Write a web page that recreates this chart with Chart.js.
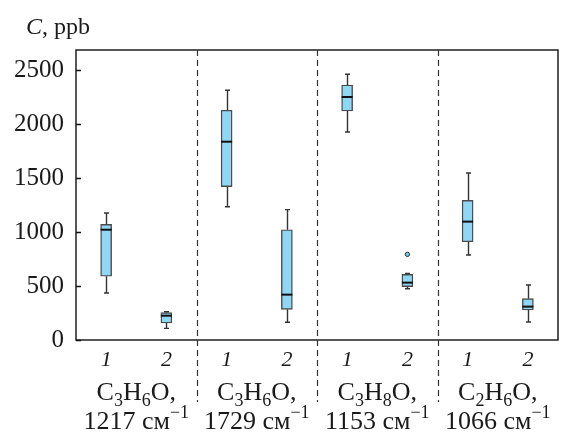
<!DOCTYPE html>
<html>
<head>
<meta charset="utf-8">
<script src="https://cdn.jsdelivr.net/npm/chart.js@4.4.1/dist/chart.umd.min.js"></script>
<style>
  html, body { margin: 0; padding: 0; background: #ffffff; }
  #wrap { width: 563px; height: 432px; position: relative; }
</style>
</head>
<body>
<div id="wrap"><canvas id="c" width="563" height="432"></canvas></div>
<script>
// ---- data ----
const categories = ['1', '2', '1', '2', '1', '2', '1', '2'];
const groupFormula = [
  [['C', 'n'], ['3', 'sub'], ['H', 'n'], ['6', 'sub'], ['O,', 'n']],
  [['C', 'n'], ['3', 'sub'], ['H', 'n'], ['6', 'sub'], ['O,', 'n']],
  [['C', 'n'], ['3', 'sub'], ['H', 'n'], ['8', 'sub'], ['O,', 'n']],
  [['C', 'n'], ['2', 'sub'], ['H', 'n'], ['6', 'sub'], ['O,', 'n']]
];
const groupWavenumber = ['1217', '1729', '1153', '1066'];
const waveUnit = 'см';
const whiskerLow  = [435, 108, 1234, 164, 1926, 475, 787, 167];
const q1          = [590, 157, 1420, 284, 2120, 494, 910, 278];
const median      = [1021, 225, 1836, 420, 2250, 531, 1096, 309];
const q3          = [1071, 253, 2127, 1021, 2361, 608, 1293, 383];
const whiskerHigh = [1176, 262, 2312, 1207, 2460, 617, 1546, 509];
const outliers    = [null, null, null, null, null, 793, null, null];
const yTicks = [0, 500, 1000, 1500, 2000, 2500];
const yMax = 2685;
const yTitleItalic = 'C';
const yTitleRest = ', ppb';

// ---- styles ----
const FONT = "'Liberation Serif', 'Times New Roman', serif";
const TEXT = '#1a1a1a';
const BOX_FILL = '#8fd8f5';
const BOX_STROKE = '#4a4a4a';

const boxPlugin = {
  id: 'boxExtras',
  beforeDatasetsDraw(chart) {
    const ctx = chart.ctx, x = chart.scales.x, y = chart.scales.y;
    ctx.save();
    ctx.strokeStyle = '#333';
    ctx.lineWidth = 1.4;
    for (let i = 0; i < categories.length; i++) {
      const px = Math.round(x.getPixelForValue(i)) + 0.5;
      const yl = y.getPixelForValue(whiskerLow[i]);
      const yh = y.getPixelForValue(whiskerHigh[i]);
      const yq1 = y.getPixelForValue(q1[i]);
      const yq3 = y.getPixelForValue(q3[i]);
      ctx.beginPath();
      ctx.moveTo(px, yh); ctx.lineTo(px, yq3);
      ctx.moveTo(px, yq1); ctx.lineTo(px, yl);
      ctx.moveTo(px - 2.5, yh); ctx.lineTo(px + 2.5, yh);
      ctx.moveTo(px - 2.5, yl); ctx.lineTo(px + 2.5, yl);
      ctx.stroke();
    }
    ctx.restore();
  },
  afterDatasetsDraw(chart) {
    const ctx = chart.ctx, y = chart.scales.y;
    const meta = chart.getDatasetMeta(0);
    ctx.save();
    ctx.strokeStyle = '#111';
    ctx.lineWidth = 2;
    for (let i = 0; i < categories.length; i++) {
      const bar = meta.data[i];
      const half = bar.width / 2;
      const px = bar.x;
      const ym = y.getPixelForValue(median[i]);
      ctx.beginPath();
      ctx.moveTo(px - half, ym); ctx.lineTo(px + half, ym);
      ctx.stroke();
    }
    ctx.restore();
  },
  afterDraw(chart) {
    const ctx = chart.ctx, x = chart.scales.x, y = chart.scales.y;
    const a = chart.chartArea;
    ctx.save();
    // frame
    ctx.strokeStyle = '#111';
    ctx.lineWidth = 1.4;
    ctx.strokeRect(a.left, a.top, a.right - a.left, a.bottom - a.top);
    // inner y ticks
    ctx.beginPath();
    yTicks.forEach(v => {
      const py = Math.round(y.getPixelForValue(v)) + 0.5;
      ctx.moveTo(a.left, py); ctx.lineTo(a.left + 5, py);
    });
    ctx.stroke();
    // dashed separators
    ctx.strokeStyle = '#333';
    ctx.lineWidth = 1.2;
    ctx.setLineDash([6, 4]);
    for (let g = 1; g < groupWavenumber.length; g++) {
      const sx = Math.round((x.getPixelForValue(2 * g - 1) + x.getPixelForValue(2 * g)) / 2) + 0.5;
      ctx.beginPath();
      ctx.moveTo(sx, a.top); ctx.lineTo(sx, 402);
      ctx.stroke();
    }
    ctx.setLineDash([]);
    // y title
    ctx.fillStyle = TEXT;
    ctx.textBaseline = 'alphabetic';
    ctx.textAlign = 'left';
    ctx.font = 'italic 24px ' + FONT;
    ctx.fillText(yTitleItalic, 26, 34);
    const w = ctx.measureText(yTitleItalic).width;
    ctx.font = '24px ' + FONT;
    ctx.fillText(yTitleRest, 26 + w, 34);
    // group labels
    const MAIN = 26, SMALL = 18;
    function segWidth(seg) {
      ctx.font = (seg[1] === 'n' ? MAIN : SMALL) + 'px ' + FONT;
      return ctx.measureText(seg[0]).width;
    }
    function drawRich(segs, cx, base) {
      const total = segs.reduce((s, sg) => s + segWidth(sg), 0);
      let cur = cx - total / 2;
      segs.forEach(sg => {
        const sw = segWidth(sg);
        ctx.font = (sg[1] === 'n' ? MAIN : SMALL) + 'px ' + FONT;
        let dy = 0;
        if (sg[1] === 'sub') dy = 6;
        if (sg[1] === 'sup') dy = -11;
        ctx.fillText(sg[0], cur, base + dy);
        cur += sw;
      });
    }
    for (let g = 0; g < groupWavenumber.length; g++) {
      const cx = (x.getPixelForValue(2 * g) + x.getPixelForValue(2 * g + 1)) / 2;
      drawRich(groupFormula[g], cx, 400);
      drawRich([[groupWavenumber[g] + ' ' + waveUnit, 'n'], ['\u22121', 'sup']], cx, 429);
    }
    ctx.restore();
  }
};

new Chart(document.getElementById('c'), {
  type: 'bar',
  data: {
    labels: categories,
    datasets: [
      {
        type: 'bar',
        data: q1.map((v, i) => [v, q3[i]]),
        backgroundColor: BOX_FILL,
        borderColor: BOX_STROKE,
        borderWidth: 1.4,
        borderSkipped: false,
        barThickness: 11,
        order: 2
      },
      {
        type: 'line',
        data: outliers,
        showLine: false,
        pointRadius: 2.2,
        pointBackgroundColor: '#6fc6ea',
        pointBorderColor: '#333',
        pointBorderWidth: 1,
        order: 1
      }
    ]
  },
  options: {
    responsive: false,
    animation: false,
    devicePixelRatio: 1,
    layout: { padding: { top: 50, right: 2, bottom: 0, left: 0 } },
    plugins: { legend: { display: false }, tooltip: { enabled: false } },
    scales: {
      x: {
        grid: { display: false, drawTicks: false },
        border: { display: false },
        ticks: {
          color: TEXT,
          font: { family: FONT, size: 22, style: 'italic' },
          padding: 7,
          maxRotation: 0
        },
        afterFit: s => { s.height = 92; }
      },
      y: {
        min: 0,
        max: yMax,
        grid: { display: false, drawTicks: false },
        border: { display: false },
        afterBuildTicks: s => { s.ticks = yTicks.map(v => ({ value: v })); },
        ticks: {
          color: TEXT,
          font: { family: FONT, size: 25 },
          padding: 12,
          callback: v => String(v)
        },
        afterFit: s => { s.width = 76; }
      }
    }
  },
  plugins: [boxPlugin]
});
</script>
</body>
</html>
